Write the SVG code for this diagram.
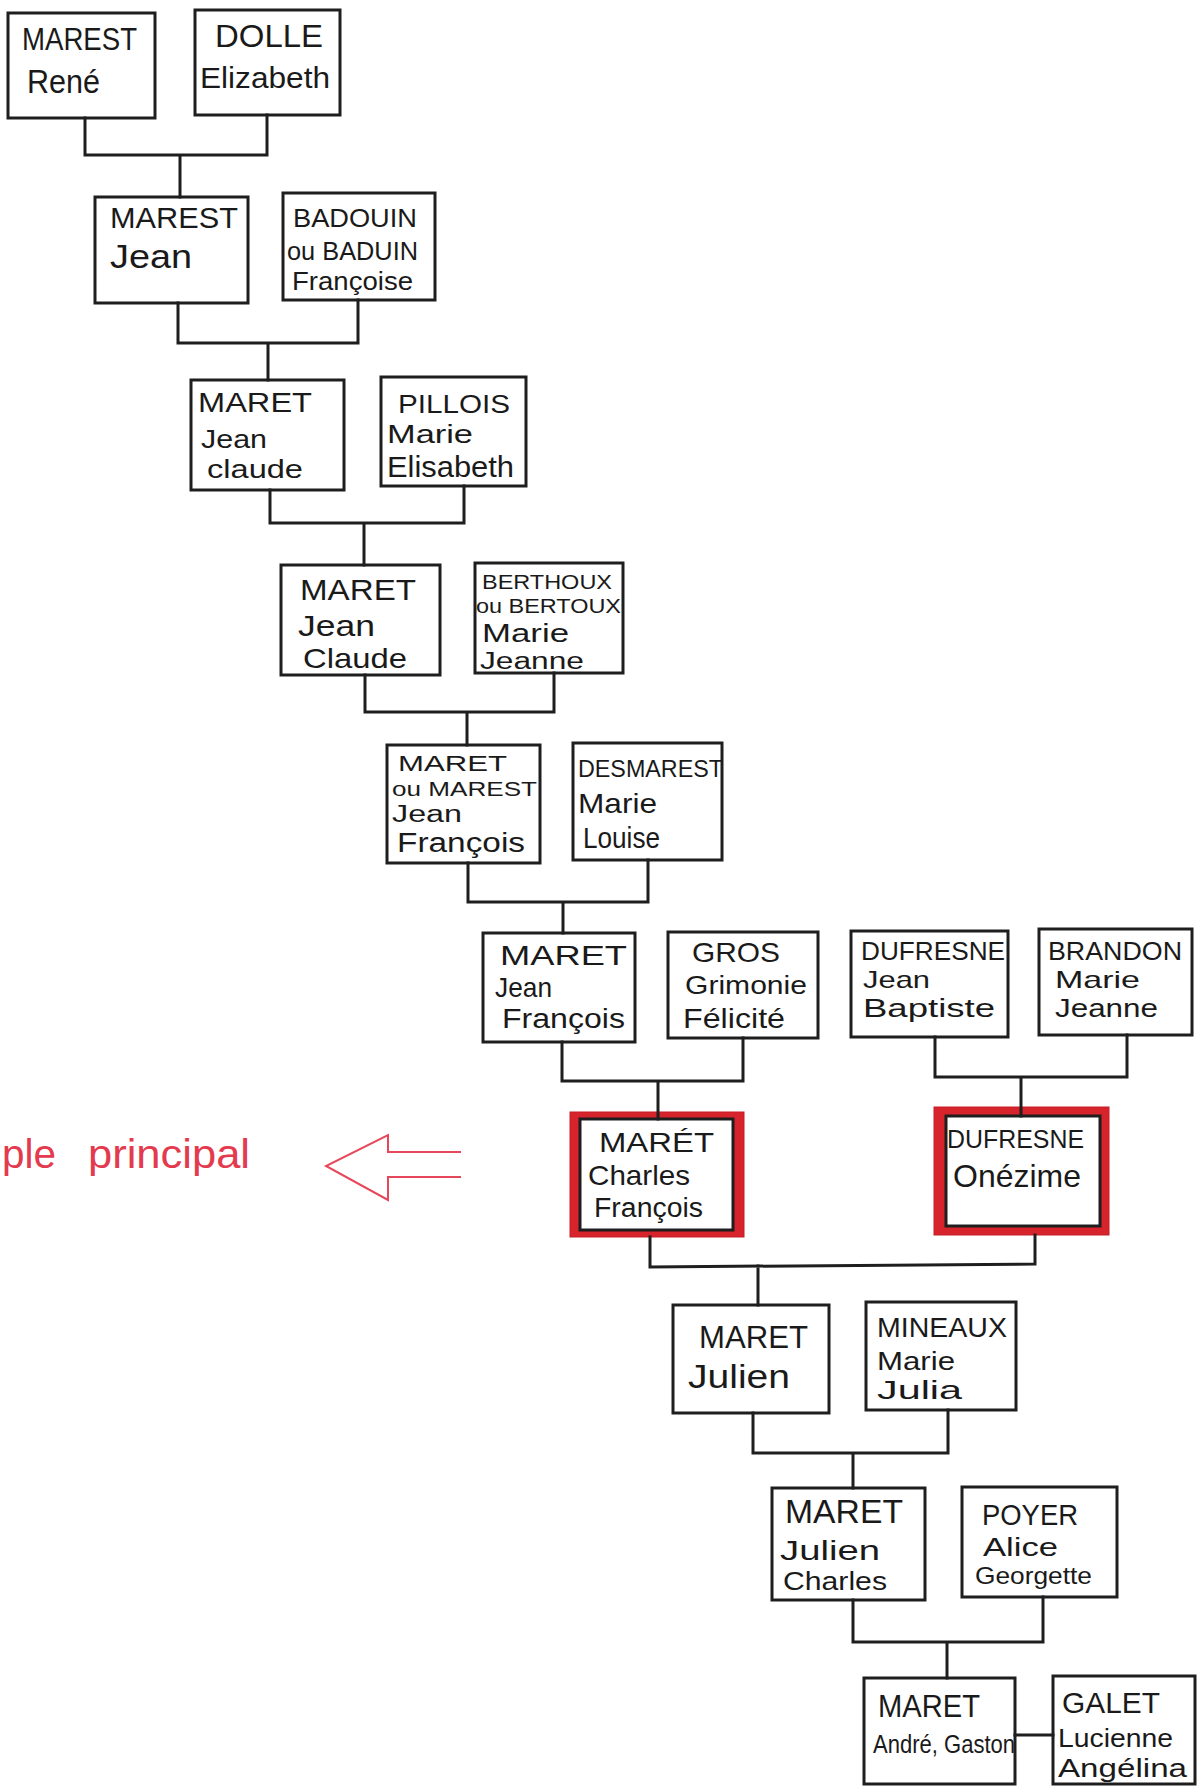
<svg xmlns="http://www.w3.org/2000/svg" width="1197" height="1787" viewBox="0 0 1197 1787">
<style>
.bg{fill:#ffffff}
.box{fill:#ffffff;stroke:#1e1e1e;stroke-width:3}
.red{fill:#d6232c;stroke:#c81e28;stroke-width:1}
.conn{fill:none;stroke:#1e1e1e;stroke-width:3;stroke-linecap:square}
text{font-family:"Liberation Sans","DejaVu Sans",sans-serif;fill:#1a1a1a}
.note{fill:#e33a4e}
.arrow{fill:none;stroke:#e8465a;stroke-width:2}
</style>
<rect class="bg" x="0" y="0" width="1197" height="1787"/>

<g id="n-marest-rene">
<rect class="box" x="8" y="13" width="147" height="105"/>
<text x="22" y="50" font-size="32" textLength="115" lengthAdjust="spacingAndGlyphs">MAREST</text>
<text x="27" y="93" font-size="34" textLength="73" lengthAdjust="spacingAndGlyphs">René</text>
</g>
<g id="n-dolle-elizabeth">
<rect class="box" x="195" y="10" width="145" height="105"/>
<text x="215" y="47" font-size="32" textLength="108" lengthAdjust="spacingAndGlyphs">DOLLE</text>
<text x="200" y="88" font-size="30" textLength="130" lengthAdjust="spacingAndGlyphs">Elizabeth</text>
</g>
<g id="n-marest-jean">
<rect class="box" x="95" y="197" width="153" height="106"/>
<text x="110" y="228" font-size="30" textLength="128" lengthAdjust="spacingAndGlyphs">MAREST</text>
<text x="110" y="268" font-size="34" textLength="82" lengthAdjust="spacingAndGlyphs">Jean</text>
</g>
<g id="n-badouin-francoise">
<rect class="box" x="283" y="193" width="152" height="107"/>
<text x="293" y="227" font-size="26" textLength="124" lengthAdjust="spacingAndGlyphs">BADOUIN</text>
<text x="287" y="260" font-size="26" textLength="131" lengthAdjust="spacingAndGlyphs">ou BADUIN</text>
<text x="292" y="290" font-size="26" textLength="121" lengthAdjust="spacingAndGlyphs">Françoise</text>
</g>
<g id="n-maret-jean-claude-1">
<rect class="box" x="191" y="380" width="153" height="110"/>
<text x="198" y="412" font-size="28" textLength="114" lengthAdjust="spacingAndGlyphs">MARET</text>
<text x="201" y="448" font-size="26" textLength="66" lengthAdjust="spacingAndGlyphs">Jean</text>
<text x="207" y="478" font-size="26" textLength="96" lengthAdjust="spacingAndGlyphs">claude</text>
</g>
<g id="n-pillois-marie-elisabeth">
<rect class="box" x="381" y="377" width="145" height="109"/>
<text x="398" y="413" font-size="26" textLength="112" lengthAdjust="spacingAndGlyphs">PILLOIS</text>
<text x="387" y="443" font-size="26" textLength="86" lengthAdjust="spacingAndGlyphs">Marie</text>
<text x="387" y="477" font-size="30" textLength="127" lengthAdjust="spacingAndGlyphs">Elisabeth</text>
</g>
<g id="n-maret-jean-claude-2">
<rect class="box" x="281" y="565" width="159" height="110"/>
<text x="300" y="600" font-size="30" textLength="116" lengthAdjust="spacingAndGlyphs">MARET</text>
<text x="298" y="636" font-size="30" textLength="77" lengthAdjust="spacingAndGlyphs">Jean</text>
<text x="303" y="668" font-size="28" textLength="104" lengthAdjust="spacingAndGlyphs">Claude</text>
</g>
<g id="n-berthoux-marie-jeanne">
<rect class="box" x="475" y="563" width="148" height="110"/>
<text x="482" y="589" font-size="21" textLength="130" lengthAdjust="spacingAndGlyphs">BERTHOUX</text>
<text x="476" y="613" font-size="21" textLength="145" lengthAdjust="spacingAndGlyphs">ou BERTOUX</text>
<text x="482" y="642" font-size="25" textLength="87" lengthAdjust="spacingAndGlyphs">Marie</text>
<text x="480" y="669" font-size="23" textLength="104" lengthAdjust="spacingAndGlyphs">Jeanne</text>
</g>
<g id="n-maret-jean-francois-1">
<rect class="box" x="387" y="745" width="153" height="118"/>
<text x="398" y="771" font-size="22" textLength="109" lengthAdjust="spacingAndGlyphs">MARET</text>
<text x="392" y="796" font-size="21" textLength="145" lengthAdjust="spacingAndGlyphs">ou MAREST</text>
<text x="392" y="822" font-size="23" textLength="70" lengthAdjust="spacingAndGlyphs">Jean</text>
<text x="397" y="852" font-size="27" textLength="128" lengthAdjust="spacingAndGlyphs">François</text>
</g>
<g id="n-desmarest-marie-louise">
<rect class="box" x="573" y="743" width="149" height="117"/>
<text x="578" y="777" font-size="24" textLength="145" lengthAdjust="spacingAndGlyphs">DESMAREST</text>
<text x="578" y="813" font-size="28" textLength="79" lengthAdjust="spacingAndGlyphs">Marie</text>
<text x="583" y="848" font-size="30" textLength="77" lengthAdjust="spacingAndGlyphs">Louise</text>
</g>
<g id="n-maret-jean-francois-2">
<rect class="box" x="483" y="933" width="152" height="109"/>
<text x="500" y="965" font-size="28" textLength="127" lengthAdjust="spacingAndGlyphs">MARET</text>
<text x="495" y="997" font-size="28" textLength="57" lengthAdjust="spacingAndGlyphs">Jean</text>
<text x="502" y="1028" font-size="27" textLength="123" lengthAdjust="spacingAndGlyphs">François</text>
</g>
<g id="n-gros-grimonie-felicite">
<rect class="box" x="668" y="932" width="150" height="106"/>
<text x="692" y="962" font-size="28" textLength="88" lengthAdjust="spacingAndGlyphs">GROS</text>
<text x="685" y="994" font-size="26" textLength="122" lengthAdjust="spacingAndGlyphs">Grimonie</text>
<text x="683" y="1028" font-size="28" textLength="102" lengthAdjust="spacingAndGlyphs">Félicité</text>
</g>
<g id="n-dufresne-jean-baptiste">
<rect class="box" x="851" y="931" width="157" height="106"/>
<text x="861" y="960" font-size="26" textLength="144" lengthAdjust="spacingAndGlyphs">DUFRESNE</text>
<text x="863" y="988" font-size="24" textLength="67" lengthAdjust="spacingAndGlyphs">Jean</text>
<text x="863" y="1017" font-size="26" textLength="132" lengthAdjust="spacingAndGlyphs">Baptiste</text>
</g>
<g id="n-brandon-marie-jeanne">
<rect class="box" x="1039" y="929" width="153" height="106"/>
<text x="1048" y="960" font-size="26" textLength="134" lengthAdjust="spacingAndGlyphs">BRANDON</text>
<text x="1055" y="988" font-size="24" textLength="85" lengthAdjust="spacingAndGlyphs">Marie</text>
<text x="1055" y="1017" font-size="26" textLength="103" lengthAdjust="spacingAndGlyphs">Jeanne</text>
</g>
<g id="n-maret-charles-francois">
<rect class="red" x="570" y="1112" width="174" height="125"/>
<rect class="box" x="580" y="1119" width="153" height="111"/>
<text x="599" y="1152" font-size="28" textLength="115" lengthAdjust="spacingAndGlyphs">MARÉT</text>
<text x="588" y="1185" font-size="28" textLength="102" lengthAdjust="spacingAndGlyphs">Charles</text>
<text x="594" y="1217" font-size="27" textLength="109" lengthAdjust="spacingAndGlyphs">François</text>
</g>
<g id="n-dufresne-onezime">
<rect class="red" x="934" y="1107" width="175" height="128"/>
<rect class="box" x="946" y="1116" width="154" height="110"/>
<text x="947" y="1148" font-size="26" textLength="137" lengthAdjust="spacingAndGlyphs">DUFRESNE</text>
<text x="953" y="1187" font-size="32" textLength="128" lengthAdjust="spacingAndGlyphs">Onézime</text>
</g>
<g id="n-maret-julien">
<rect class="box" x="673" y="1305" width="156" height="108"/>
<text x="699" y="1348" font-size="32" textLength="109" lengthAdjust="spacingAndGlyphs">MARET</text>
<text x="688" y="1388" font-size="34" textLength="102" lengthAdjust="spacingAndGlyphs">Julien</text>
</g>
<g id="n-mineaux-marie-julia">
<rect class="box" x="866" y="1302" width="150" height="108"/>
<text x="877" y="1337" font-size="28" textLength="130" lengthAdjust="spacingAndGlyphs">MINEAUX</text>
<text x="877" y="1370" font-size="25" textLength="78" lengthAdjust="spacingAndGlyphs">Marie</text>
<text x="877" y="1399" font-size="25" textLength="85" lengthAdjust="spacingAndGlyphs">Julia</text>
</g>
<g id="n-maret-julien-charles">
<rect class="box" x="772" y="1488" width="153" height="112"/>
<text x="785" y="1523" font-size="34" textLength="118" lengthAdjust="spacingAndGlyphs">MARET</text>
<text x="780" y="1560" font-size="28" textLength="100" lengthAdjust="spacingAndGlyphs">Julien</text>
<text x="783" y="1590" font-size="26" textLength="104" lengthAdjust="spacingAndGlyphs">Charles</text>
</g>
<g id="n-poyer-alice-georgette">
<rect class="box" x="962" y="1487" width="155" height="110"/>
<text x="982" y="1525" font-size="30" textLength="96" lengthAdjust="spacingAndGlyphs">POYER</text>
<text x="983" y="1556" font-size="25" textLength="75" lengthAdjust="spacingAndGlyphs">Alice</text>
<text x="975" y="1584" font-size="24" textLength="117" lengthAdjust="spacingAndGlyphs">Georgette</text>
</g>
<g id="n-maret-andre-gaston">
<rect class="box" x="864" y="1678" width="151" height="106"/>
<text x="878" y="1717" font-size="32" textLength="102" lengthAdjust="spacingAndGlyphs">MARET</text>
<text x="873" y="1753" font-size="26" textLength="142" lengthAdjust="spacingAndGlyphs">André, Gaston</text>
</g>
<g id="n-galet-lucienne-angelina">
<rect class="box" x="1053" y="1676" width="142" height="108"/>
<text x="1062" y="1713" font-size="30" textLength="98" lengthAdjust="spacingAndGlyphs">GALET</text>
<text x="1058" y="1747" font-size="26" textLength="115" lengthAdjust="spacingAndGlyphs">Lucienne</text>
<text x="1058" y="1777" font-size="26" textLength="129" lengthAdjust="spacingAndGlyphs">Angélina</text>
</g>

<g id="annotation">
<text class="note" x="2" y="1168" font-size="40" textLength="54" lengthAdjust="spacingAndGlyphs">ple</text>
<text class="note" x="88" y="1168" font-size="40" textLength="162" lengthAdjust="spacingAndGlyphs">principal</text>
<polyline class="arrow" points="461,1152 388,1152 388,1135 326,1166 388,1200 388,1177 461,1177"/>
</g>

<g id="connectors">
<path class="conn" d="M85,118 V155 M267,115 V155 M85,155 H267 M180,155 V197"/>
<path class="conn" d="M178,303 V343 M358,300 V343 M178,343 H358 M268,343 V380"/>
<path class="conn" d="M270,490 V523 M464,486 V523 M270,523 H464 M364,523 V565"/>
<path class="conn" d="M365,675 V712 M554,673 V712 M365,712 H554 M467,712 V745"/>
<path class="conn" d="M468,863 V902 M648,860 V902 M468,902 H648 M563,902 V933"/>
<path class="conn" d="M562,1042 V1081 M743,1038 V1081 M562,1081 H743 M658,1081 V1119"/>
<path class="conn" d="M935,1037 V1077 M1127,1035 V1077 M935,1077 H1127 M1021,1077 V1116"/>
<path class="conn" d="M650,1237 V1267 M1035,1235 V1264 M650,1267 L1035,1264 M758,1266 V1305"/>
<path class="conn" d="M753,1413 V1453 M948,1410 V1453 M753,1453 H948 M853,1453 V1488"/>
<path class="conn" d="M853,1600 V1642 M1043,1597 V1642 M853,1642 H1043 M947,1642 V1678"/>
<path class="conn" d="M1015,1735 H1053"/>
</g>
</svg>
